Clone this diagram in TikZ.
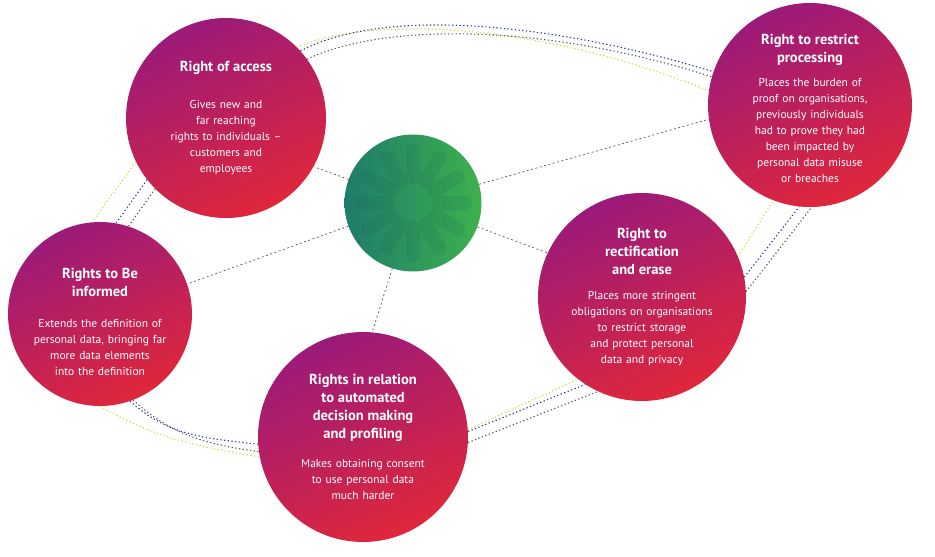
\documentclass[tikz,border=0pt]{standalone}
\usepackage{fontspec}
\setmainfont{PT Sans}
\usetikzlibrary{positioning}

\definecolor{rpurple}{HTML}{9B1A7A}
\definecolor{rred}{HTML}{E0273B}
\definecolor{hubleft}{HTML}{1E7C6B}
\definecolor{hubmid}{HTML}{13948D}
\definecolor{hubright}{HTML}{3EB14D}
\definecolor{orblime}{HTML}{C8E22C}
\definecolor{orbblue}{HTML}{2A38A6}
\definecolor{orbgray}{HTML}{5A5A5A}

\newcommand{\hd}{\fontsize{14.5}{18}\selectfont\bfseries}

\tikzset{
  bubble/.style={circle, inner sep=-20pt, text=white, align=center,
    top color=rpurple, bottom color=rred, shading angle=25,
    font=\fontsize{11.5}{16}\selectfont},
  hubline/.style={draw=orbgray, line width=0.7pt, dash pattern=on 2pt off 2.5pt},
  orbit/.style={draw=#1, line width=1.1pt, dash pattern=on 1.3pt off 2.4pt},
  spoke/.style={line width=14pt, line cap=round, draw=hubleft!70!black, opacity=0.12}
}

\begin{document}
\begin{tikzpicture}[x=1pt,y=1pt]
\useasboundingbox (0,0) rectangle (935,-557);

\node[circle, minimum size=137pt, left color=hubleft, middle color=hubmid, right color=hubright] (hub) at (413,-203) {};
\foreach \a in {0,30,...,330}
  \draw[spoke] (hub.center) ++(\a:25) -- ++(\a:27);

\node[bubble, minimum size=200pt, text width=140pt] (acc) at (226,-118)
  {{\hd Right of access\par}\vspace{21pt}
   Gives new and\\far reaching\\rights to individuals –\\customers and\\employees};
\node[bubble, minimum size=204pt, text width=140pt] (res) at (810,-105)
  {{\hd Right to restrict\\processing\par}\vspace{8pt}
   Places the burden of\\proof on organisations,\\previously individuals\\had to prove they had\\been impacted by\\personal data misuse\\or breaches\par\vspace{-6pt}};
\node[bubble, minimum size=208pt, text width=165pt] (rec) at (642,-297)
  {{\hd Right to\\rectification\\and erase\par}\vspace{9pt}
   Places more stringent\\obligations on organisations\\to restrict storage\\and protect personal\\data and privacy};
\node[bubble, minimum size=210pt, text width=150pt] (aut) at (363,-437)
  {{\hd Rights in relation\\to automated\\decision making\\and profiling\par}\vspace{13pt}
   Makes obtaining consent\\to use personal data\\much harder};
\node[bubble, minimum size=184pt, text width=155pt] (inf) at (100,-314)
  {{\hd Rights to Be\\informed\par}\vspace{15pt}
   Extends the definition of\\personal data, bringing far\\more data elements\\into the definition\par\vspace{-16pt}};

\draw[hubline] (hub) -- (acc.-29);
\draw[hubline] (hub) -- (res.188);
\draw[hubline] (hub) -- (rec.155);
\draw[hubline] (hub) -- (aut.85);
\draw[hubline] (hub) -- (inf.19);

\draw[orbit=orblime] (acc.45) to[out=22,in=158,out looseness=0.6,in looseness=1] (res.172);
\draw[orbit=orbblue] (acc.42) to[out=28,in=163,out looseness=0.6,in looseness=1] (res.161);
\draw[orbit=orbgray] (acc.36) to[out=25,in=162,out looseness=0.6,in looseness=1] (res.164);

\draw[orbit=orblime] (acc.206) -- (inf.95);
\draw[orbit=orbblue] (acc.218) -- (inf.80);
\draw[orbit=orbgray] (acc.225) -- (inf.72);

\draw[orbit=orblime] (inf.270) to[out=-30,in=170] (aut.191);
\draw[orbit=orbblue] (inf.289) to[out=-42,in=173] (aut.184);
\draw[orbit=orbgray] (inf.291) to[out=-42,in=172] (aut.188);

\draw[orbit=orblime] (aut.4) -- (rec.232);
\draw[orbit=orbblue] (aut.3) -- (rec.237);
\draw[orbit=orbgray] (aut.357) -- (rec.245);

\draw[orbit=orblime] (rec.23) -- (res.249);
\draw[orbit=orbblue] (rec.11) -- (res.264);
\draw[orbit=orbgray] (rec.3) -- (res.271);
\end{tikzpicture}
\end{document}
